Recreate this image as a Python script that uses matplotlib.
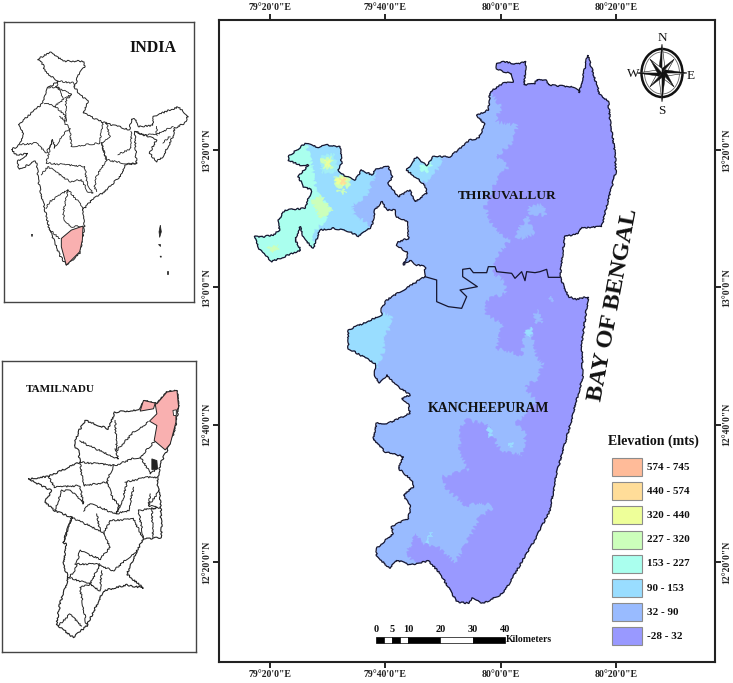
import numpy as np
import matplotlib
matplotlib.use("Agg")
import matplotlib.pyplot as plt
from matplotlib.patches import Polygon, Rectangle, Ellipse

plt.rcParams['font.family'] = ['Liberation Serif', 'DejaVu Serif']

W, H = 733, 683

# ---------- legend data ----------
class_labels = ["574 - 745", "440 - 574", "320 - 440", "227 - 320",
                "153 - 227", "90 - 153", "32 - 90", "-28 - 32"]
class_colors = ["#FFBB99", "#FFDD99", "#EEFF99", "#CCFFBB",
                "#AAFFEE", "#99DDFF", "#99BBFF", "#9999FF"]
COL = dict(zip(["c574", "c440", "c320", "c227", "c153", "c90", "c32", "c28"], class_colors))

# ---------- graticule ----------
lon_ticks = [79 + 20/60, 79 + 40/60, 80.0, 80 + 20/60]
lon_labels = ["79°20'0\"E", "79°40'0\"E", "80°0'0\"E", "80°20'0\"E"]
lat_ticks = [13 + 20/60, 13.0, 12 + 40/60, 12 + 20/60]
lat_labels = ["13°20'0\"N", "13°0'0\"N", "12°40'0\"N", "12°20'0\"N"]

scale_breaks = [0, 2.5, 5, 7.5, 10, 20, 30, 40]
scale_labels = [0, 5, 10, 20, 30, 40]

# ---------- digitised outlines (traced sheet A and sheet B units) ----------
thiru_east_A = [(770,70),(790,65),(830,72),(858,66),(852,135),(885,130),(890,118),(918,120),(925,135),
    (990,140),(1010,148),(1018,158),(1043,45),(1078,160),(1105,185),(1110,240),(1125,340),(1128,395),
    (1115,440),(1085,560),(1050,562),(1020,565),(1015,580),(975,590),(968,640),(960,708),
    (985,770),(1010,778),(1045,770)]
kanch_coast_B = [(725,190),(728,290),(700,400),(650,580),(630,690),(590,770),(490,940),(430,970),
    (395,955),(385,970),(350,965),(300,880),(265,843),(210,855),(170,840),(150,865),(110,830),(110,805),
    (160,760),(155,740),(205,715),(212,680),(190,645),(220,620),(215,600),(175,565),(190,530),(135,515),
    (100,480),(110,430),(145,430),(210,400),(205,370),(185,355),(210,345),(175,320),(140,285),(120,310),
    (105,290),(105,250),(25,205),(25,150),(125,105),(125,85)]
thiru_west_A = [(440,780),(555,710),(555,680),(530,675),(510,660),(490,675),(505,640),(470,615),
    (475,605),(505,595),(505,545),(470,530),(465,510),(440,510),(425,485),(405,510),(395,560),(355,590),
    (330,575),(280,565),(240,570),(220,625),(205,610),(190,590),(180,560),(165,600),(183,630),(95,665),
    (60,630),(42,590),(70,590),(100,585),(118,570),(115,540),(135,510),(195,505),(215,450),(190,440),
    (175,410),(205,375),(180,375),(145,360),(145,350),(195,310),(235,322),(260,315),(300,320),(305,370),
    (295,390),(310,405),(345,420),(365,390),(395,405),(410,385),(445,380),(458,410),(445,430),(475,470),
    (510,450),(525,485),(560,460),(555,435),(500,390),(530,350),(560,378),(580,350),(630,350),(690,300),
    (715,295),(735,255),(710,225),(745,210),(750,155),(790,130),(820,125),(815,100),(790,95),(770,85)]
district_line_A = [(555,710),(590,720),(590,785),(625,800),(665,805),(680,770),(660,750),(712,740),
    (668,710),(668,688),(690,685),(700,698),(740,698),(745,680),(765,680),(770,695),(815,700),(825,715),
    (845,695),(855,722),(860,695),(885,698),(900,695),(920,688),(925,712),(960,712)]

low_north_A = [(745,150),(785,200),(765,245),(835,255),(815,310),(770,350),(805,380),(770,420),(735,500),
    (760,560),(810,600),(770,650),(760,700),(790,720)]
low_south_B = [(490,0),(500,40),(440,60),(440,105),(490,130),(470,205),(545,225),(555,150),(575,145),
    (590,230),(610,250),(590,300),(555,320),(590,365),(530,430),(558,465),(545,530),(480,510),(440,435),
    (380,420),(360,450),(360,520),(385,570),(310,590),(320,625),(380,680),(420,665),(465,680),(420,710),
    (380,790),(345,850),(290,800),(240,790),(230,760),(200,820),(220,845),(300,885),(340,1000),(800,1100)]
low_close_A = [(1400,-100),(745,-100)]

base_patches_A = [[(865,500),(910,495),(915,525),(870,520)], [(825,590),(860,530),(880,580),(850,595)]]
base_patches_B = [[(595,90),(605,130),(590,130),(585,100)], [(630,50),(640,55),(635,65)]]

c90_A = [[(410,385),(395,430),(375,470),(335,495),(345,530),(380,545),(395,575),(400,700),(0,700),(0,250),(410,250)],
         [(490,400),(530,340),(605,345),(600,375),(580,405),(555,425),(520,420)]]
c90_B = [[(0,100),(125,100),(155,110),(145,150),(130,180),(130,215),(110,260),(0,260)],
         [(560,150),(575,145),(572,165),(560,170)], [(445,440),(455,445),(452,470),(442,465)],
         [(505,490),(518,485),(515,500)], [(258,785),(272,760),(276,762),(262,788)]]
c153_A = [[(120,300),(200,320),(215,375),(225,430),(240,470),(270,510),(250,545),(225,570),(215,640),(0,700),(0,500)],
          [(545,375),(575,370),(565,395),(545,390)], [(245,345),(285,345),(290,395),(245,395)]]
c227_A = [[(245,355),(275,355),(275,385),(250,380)], [(285,410),(330,405),(325,440),(290,440)],
          [(215,480),(245,470),(275,515),(240,530)], [(85,620),(115,620),(110,635),(90,630)],
          [(295,450),(315,450),(315,460),(295,460)]]
c320_A = [[(252,362),(268,362),(268,376),(255,374)], [(290,415),(320,412),(318,432),(295,432)]]
c440_A = [[(298,418),(315,418),(315,430),(300,430)]]

# India sheet
india_outline = [(115,180),(150,158),(175,175),(195,185),(250,185),(255,200),(235,230),(225,262),(240,285),
    (265,305),(250,340),(310,368),(390,390),(395,358),(410,360),(415,380),(460,378),(462,350),(535,322),
    (565,348),(555,370),(525,385),(520,410),(490,470),(470,485),(450,460),(470,420),(430,405),(405,395),
    (410,490),(375,495),(370,520),(310,580),(285,590),(250,630),(255,675),(240,760),(200,795),(180,765),
    (150,690),(135,625),(115,540),(112,490),(105,485),(85,495),(60,510),(52,485),(85,462),(50,465),
    (35,450),(60,435),(70,400),(55,375),(130,310),(145,265),(175,245),(135,215),(130,195)]
india_borders = [
    [(60,435),(110,430),(140,460),(160,420),(165,445),(185,410),(210,385)],
    [(175,245),(220,250),(225,262)], [(175,245),(170,262),(215,285),(195,295)],
    [(145,265),(175,262),(190,300),(165,320),(135,310)], [(165,320),(195,345),(200,365),(180,350)],
    [(215,285),(200,300),(195,370),(210,385),(215,440),(300,430),(310,370)],
    [(140,490),(150,450),(160,420)], [(320,368),(330,410),(305,430),(320,480),(370,490),(410,490)],
    [(355,465),(395,445),(395,395)], [(140,490),(255,500),(262,550),(280,578)],
    [(305,430),(320,480),(290,530),(285,560),(290,575)], [(125,525),(145,500),(210,545),(245,540),(265,575),(280,578)],
    [(140,625),(150,605),(205,570),(190,640),(195,660),(215,680),(250,678)],
    [(150,690),(180,715)], [(405,395),(430,405),(470,405),(520,380)],
    [(470,378),(470,405)], [(490,430),(510,410)], [(205,570),(240,610),(250,630)]]
india_tn = [(185,715),(215,690),(250,678),(248,720),(240,755),(200,795),(185,740)]
india_islands = [[(482,675),(485,695),(480,712),(478,695)], [(476,733),(480,733),(480,738)],
                 [(481,768),(485,768),(484,772)], [(501,812),(505,812),(505,822),(501,822)],
                 [(95,703),(99,703),(97,710)]]

# Tamil Nadu sheet
tn_outline = [(500,125),(530,120),(535,170),(525,230),(510,280),(480,340),(470,400),(480,440),(485,560),
    (430,565),(410,600),(380,670),(430,712),(380,702),(310,720),(260,825),(220,860),(170,820),(180,760),
    (205,680),(190,640),(200,580),(190,575),(215,500),(165,480),(135,455),(155,420),(85,385),(145,378),
    (240,335),(235,300),(222,285),(235,245),(255,210),(325,235),(345,185),(415,178),(430,150),(470,160)]
tn_pink = [[(500,125),(530,120),(535,170),(527,185),(527,215),(510,280),(495,298),(462,270),(470,225),
            (448,212),(470,190),(465,160),(470,160)],
           [(430,150),(465,158),(460,175),(420,182)]]
tn_borders = [
    [(240,335),(300,340),(345,345),(395,325),(420,320),(465,270)],
    [(345,295),(355,325),(265,285),(240,270)],
    [(345,210),(350,300),(400,245),(445,215)],
    [(420,320),(440,350),(450,370),(470,355)],
    [(240,335),(250,405),(320,395),(340,345)],
    [(145,378),(165,410),(240,405),(250,460),(215,420),(185,420),(165,480)],
    [(380,395),(370,440),(350,490),(355,460),(340,445),(320,395)],
    [(375,395),(440,380),(470,380)],
    [(400,410),(385,480),(345,490),(300,470),(270,460),(250,480)],
    [(450,430),(445,465),(470,470),(415,480),(430,560)],
    [(445,465),(478,420)],
    [(290,490),(300,540),(215,500),(205,530),(190,575)],
    [(330,510),(400,505),(430,565)],
    [(330,510),(310,550),(330,590),(300,625),(240,600),(225,660),(205,680)],
    [(300,540),(310,550)],
    [(225,640),(290,640),(340,660),(380,625),(410,600)],
    [(205,680),(270,700),(300,640)],
    [(305,660),(300,720),(270,700),(240,710),(260,825)],
    [(175,825),(210,790),(245,825)],
    [(460,475),(480,470)], [(455,475),(458,560)]]
tn_notch = [(518,180),(528,178),(528,195),(520,195)]
tn_city = [(455,325),(470,330),(472,355),(455,357)]


# ---------- sheet registration: tracing sheets -> lon/lat ----------
X_PER_MIN = 5.767
Y_PER_MIN = 6.867
def sheet(points, ox, oy):
    p = np.asarray(points, float)
    x = ox + p[:, 0] / 3
    y = oy + p[:, 1] / 3
    lon = 79 + 20/60 + (x - 270) / X_PER_MIN / 60
    lat = 13 + 20/60 - (y - 150) / Y_PER_MIN / 60
    return np.column_stack([lon, lat])
A = lambda pts: sheet(pts, 240, 40)
B = lambda pts: sheet(pts, 340, 280)

fig = plt.figure(figsize=(W/100, H/100), dpi=100, facecolor="white")
def axes_px(x0, y0, x1, y1, **kw):
    return fig.add_axes([x0/W, 1 - y1/H, (x1-x0)/W, (y1-y0)/H], **kw)

# ---------- main map ----------
FX0, FY0, FX1, FY1 = 219, 20, 715, 662
ax = axes_px(FX0, FY0, FX1, FY1)
corner = sheet([(0, 0), (0, 0)], FX0, FY0)[0]
corner2 = sheet([(0, 0), (0, 0)], FX1, FY1)[0]
ax.set_xlim(corner[0], corner2[0])
ax.set_ylim(corner2[1], corner[1])

outer = np.vstack([A(thiru_east_A), B(kanch_coast_B), A(thiru_west_A)])
clip = Polygon(outer, closed=True, transform=ax.transData, facecolor="none", edgecolor="none")
ax.add_patch(clip)
def layer(xy, color, z, rough=True):
    p = Polygon(xy, closed=True, facecolor=color, edgecolor=color, lw=0.3, zorder=z)
    ax.add_patch(p)
    p.set_clip_path(clip)
    if rough:
        p.set_sketch_params(scale=2.0, length=5, randomness=20)

layer(outer, COL["c32"], 1, rough=False)
low = np.vstack([A(low_north_A), B(low_south_B), A(low_close_A)])
layer(low, COL["c28"], 2)
for q in base_patches_A: layer(A(q), COL["c32"], 3)
for q in base_patches_B: layer(B(q), COL["c32"], 3)
for q in c90_A: layer(A(q), COL["c90"], 4)
for q in c90_B: layer(B(q), COL["c90"], 4)
for i, q in enumerate(c153_A): layer(A(q), COL["c153"] if i < 2 else "#A2EEF6", 5)
for q in c227_A: layer(A(q), COL["c227"], 6)
for q in c320_A: layer(A(q), COL["c320"], 7)
for q in c440_A: layer(A(q), COL["c440"], 8)

edge = Polygon(outer, closed=True, facecolor="none", edgecolor="#15152e", lw=0.9, zorder=9)
edge.set_sketch_params(scale=0.7, length=5, randomness=20)
ax.add_patch(edge)
dl = A(district_line_A)
ax.plot(dl[:, 0], dl[:, 1], color="#15152e", lw=0.9, zorder=9)

ax.set_xticks(lon_ticks)
ax.set_xticklabels(lon_labels, fontsize=7, fontweight="bold", color="#222222")
ax.set_yticks(lat_ticks)
ax.set_yticklabels(lat_labels, fontsize=7, fontweight="bold", color="#222222", rotation=90, va="center")
ax.tick_params(axis="both", which="both", length=4, width=1.2, top=True, right=True,
               labeltop=True, labelright=True, pad=1.5)
for s in ax.spines.values():
    s.set_linewidth(1.5)
    s.set_color("#222222")

# ---------- inset: India ----------
a1 = axes_px(4, 22, 194, 302)
a1.set_xlim(13, 583); a1.set_ylim(905, 68)
a1.set_xticks([]); a1.set_yticks([])
rough_thin = dict(scale=0.8, length=4, randomness=20)
pg = Polygon(india_outline, closed=True, fc="white", ec="#222222", lw=0.7)
pg.set_sketch_params(**rough_thin); a1.add_patch(pg)
for b in india_borders:
    q = np.array(b)
    ln, = a1.plot(q[:, 0], q[:, 1], color="#222222", lw=0.6)
    ln.set_sketch_params(**rough_thin)
a1.add_patch(Polygon(india_tn, closed=True, fc="#F9B0B0", ec="#222222", lw=0.7, zorder=4))
for q in india_islands:
    a1.add_patch(Polygon(q, closed=True, fc="#222222", ec="#222222", lw=0.5))
for s in a1.spines.values():
    s.set_linewidth(1.0); s.set_color("#444444")

# ---------- inset: Tamil Nadu ----------
a2 = axes_px(2, 361, 196, 652)
a2.set_xlim(7, 587); a2.set_ylim(903, 32)
a2.set_xticks([]); a2.set_yticks([])
pg = Polygon(tn_outline, closed=True, fc="white", ec="#222222", lw=0.8)
pg.set_sketch_params(**rough_thin); a2.add_patch(pg)
for b in tn_borders:
    q = np.array(b)
    ln, = a2.plot(q[:, 0], q[:, 1], color="#222222", lw=0.7)
    ln.set_sketch_params(**rough_thin)
for q in tn_pink:
    a2.add_patch(Polygon(q, closed=True, fc="#F9B0B0", ec="#222222", lw=0.7, zorder=4))
a2.add_patch(Polygon(tn_notch, closed=True, fc="white", ec="#222222", lw=0.6, zorder=5))
a2.add_patch(Polygon(tn_city, closed=True, fc="#222222", ec="#222222", lw=0.6, zorder=5))
for s in a2.spines.values():
    s.set_linewidth(1.0); s.set_color("#444444")

# ---------- overlay for annotation furniture ----------
ov = fig.add_axes([0, 0, 1, 1], facecolor="none", zorder=10)
ov.set_xlim(0, W); ov.set_ylim(H, 0); ov.axis("off")
tk = dict(color="#111111", fontweight="bold", ha="center", va="center")
ov.text(153, 48, "INDIA", fontsize=11.5, **tk)
ov.text(60, 389, "TAMILNADU", fontsize=8, **tk)
ov.text(507, 196, "THIRUVALLUR", fontsize=9.6, **tk)
ov.text(489, 408, "KANCHEEPURAM", fontsize=10, **tk)
ov.text(613, 305, "BAY OF BENGAL", fontsize=17.5, rotation=79.5, rotation_mode="anchor", **tk)

# legend
ov.text(653, 441, "Elevation (mts)", fontsize=10, **tk)
yc = 467
for lab, col in zip(class_labels, class_colors):
    ov.add_patch(Rectangle((612, yc - 9), 30, 18, fc=col, ec="#8c8c8c", lw=0.8))
    ov.text(647, yc, lab, fontsize=8, fontweight="bold", color="#111111", ha="left", va="center")
    yc += 24.2

# scale bar
SX0, SPX = 376, 128.7 / 40
for i, (k0, k1) in enumerate(zip(scale_breaks[:-1], scale_breaks[1:])):
    ov.add_patch(Rectangle((SX0 + k0*SPX, 637), (k1-k0)*SPX, 5.5,
                           fc="black" if i % 2 == 0 else "white", ec="black", lw=0.5))
for k in scale_labels:
    ov.text(SX0 + k*SPX, 629, str(k), fontsize=7.5, fontweight="bold", color="#111111", ha="center", va="center")
ov.text(506, 639, "Kilometers", fontsize=7, fontweight="bold", color="#111111", ha="left", va="center")

# north arrow
cx, cy = 662, 73
ov.add_patch(Ellipse((cx, cy), 41, 48, fc="none", ec="#111111", lw=1.8))
ov.add_patch(Ellipse((cx, cy), 35, 42, fc="none", ec="#666666", lw=0.6))
for ang, r in [(a, 25 if a % 90 == 0 else 17) for a in range(0, 360, 45)]:
    t = np.deg2rad(ang)
    tip = (cx + r*np.sin(t), cy - r*np.cos(t)*1.15)
    sr = 4.5
    l = (cx + sr*np.sin(t - np.pi/4), cy - sr*np.cos(t - np.pi/4))
    rr = (cx + sr*np.sin(t + np.pi/4), cy - sr*np.cos(t + np.pi/4))
    ov.add_patch(Polygon([(cx, cy), l, tip], closed=True, fc="#111111", ec="#111111", lw=0.3))
    ov.add_patch(Polygon([(cx, cy), rr, tip], closed=True, fc="white", ec="#111111", lw=0.4))
for s, (x, y) in {"N": (662, 38), "S": (662, 111), "W": (633, 74), "E": (691, 76)}.items():
    ov.text(x, y, s, fontsize=9.5, color="#111111", ha="center", va="center")

fig.savefig("out.png", dpi=100, facecolor="white")
